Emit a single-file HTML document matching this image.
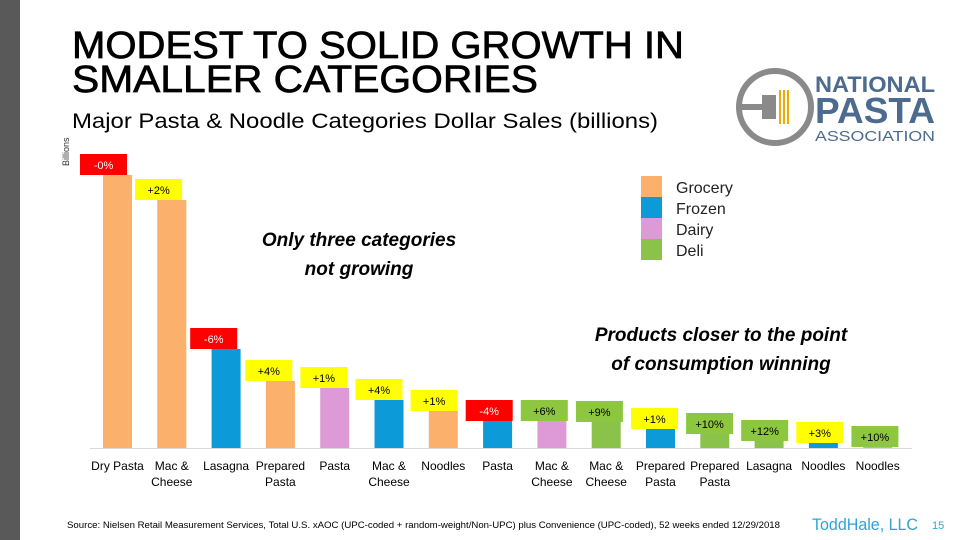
<!DOCTYPE html>
<html><head><meta charset="utf-8"><style>
html,body{margin:0;padding:0;background:#fff;}
svg{display:block;font-family:"Liberation Sans",sans-serif;}
</style></head><body>
<svg id="chart" width="960" height="540" viewBox="0 0 960 540">
<rect x="0" y="0" width="20" height="540" fill="#595959"/>
<text x="72" y="58" font-size="38" stroke="#000" stroke-width="0.7" textLength="612" lengthAdjust="spacingAndGlyphs">MODEST TO SOLID GROWTH IN</text>
<text x="72" y="92" font-size="38" stroke="#000" stroke-width="0.7" textLength="466" lengthAdjust="spacingAndGlyphs">SMALLER CATEGORIES</text>
<text x="72" y="128" font-size="21" textLength="586" lengthAdjust="spacingAndGlyphs">Major Pasta &amp; Noodle Categories Dollar Sales (billions)</text>
<text transform="translate(69,166) rotate(-90)" font-size="9" fill="#333">Billions</text>
<g>
<circle cx="775" cy="107" r="36" fill="none" stroke="#8a8a8a" stroke-width="6"/>
<rect x="762" y="95" width="14" height="24" fill="#8a8a8a"/>
<rect x="740" y="104" width="24" height="6" fill="#8a8a8a"/>
<line x1="780" y1="90" x2="780" y2="124" stroke="#f2a900" stroke-width="2"/>
<line x1="784" y1="90" x2="784" y2="124" stroke="#f2a900" stroke-width="2"/>
<line x1="788" y1="90" x2="788" y2="124" stroke="#f2a900" stroke-width="2"/>
<text x="815" y="92" font-size="22" font-weight="bold" fill="#4d6b8e" textLength="120" lengthAdjust="spacingAndGlyphs">NATIONAL</text>
<text x="815" y="123" font-size="36" font-weight="bold" fill="#4d6b8e" textLength="120" lengthAdjust="spacingAndGlyphs">PASTA</text>
<text x="815" y="141" font-size="15" fill="#4d6b8e" textLength="120" lengthAdjust="spacingAndGlyphs">ASSOCIATION</text>
</g>
<line x1="90" y1="448.5" x2="912" y2="448.5" stroke="#d9d9d9" stroke-width="1"/>
<g id="bars"></g>
<g>
<rect x="641" y="176" width="21" height="21" fill="#fbb16b"/>
<rect x="641" y="197" width="21" height="21" fill="#0c9bd8"/>
<rect x="641" y="218" width="21" height="21" fill="#de9ad6"/>
<rect x="641" y="239" width="21" height="21" fill="#8bc34a"/>
<text x="676" y="193" font-size="16" fill="#222">Grocery</text>
<text x="676" y="214" font-size="16" fill="#222">Frozen</text>
<text x="676" y="235" font-size="16" fill="#222">Dairy</text>
<text x="676" y="256" font-size="16" fill="#222">Deli</text>
</g>
<text x="359" y="246" font-size="19" font-weight="bold" font-style="italic" text-anchor="middle">Only three categories</text>
<text x="359" y="275" font-size="19" font-weight="bold" font-style="italic" text-anchor="middle">not growing</text>
<text x="721" y="341" font-size="19" font-weight="bold" font-style="italic" text-anchor="middle">Products closer to the point</text>
<text x="721" y="370" font-size="19" font-weight="bold" font-style="italic" text-anchor="middle">of consumption winning</text>
<text x="67" y="528" font-size="9" textLength="713" lengthAdjust="spacingAndGlyphs">Source: Nielsen Retail Measurement Services, Total U.S. xAOC (UPC-coded + random-weight/Non-UPC) plus Convenience (UPC-coded), 52 weeks ended 12/29/2018</text>
<text x="812" y="530" font-size="17" fill="#2fa3d8" textLength="106" lengthAdjust="spacingAndGlyphs">ToddHale, LLC</text>
<text x="932" y="529" font-size="11" fill="#2fa3d8">15</text>
</svg>
<script>
const categories = [["Dry Pasta"],["Mac &","Cheese"],["Lasagna"],["Prepared","Pasta"],["Pasta"],["Mac &","Cheese"],["Noodles"],["Pasta"],["Mac &","Cheese"],["Mac &","Cheese"],["Prepared","Pasta"],["Prepared","Pasta"],["Lasagna"],["Noodles"],["Noodles"]];
const channels = ["Grocery","Grocery","Frozen","Grocery","Dairy","Frozen","Grocery","Frozen","Dairy","Deli","Frozen","Deli","Deli","Frozen","Dairy"];
const sales = [2.73,2.48,0.99,0.67,0.60,0.48,0.37,0.27,0.27,0.26,0.19,0.14,0.07,0.05,0.01];
const growthLabels = ["-0%","+2%","-6%","+4%","+1%","+4%","+1%","-4%","+6%","+9%","+1%","+10%","+12%","+3%","+10%"];
const growthValues = [-0.1,2,-6,4,1,4,1,-4,6,9,1,10,12,3,10];

const colors = {Grocery:"#fbb16b",Frozen:"#0c9bd8",Dairy:"#de9ad6",Deli:"#8bc34a"};
const baseY = 448, pxPerUnit = 100, x0 = 103, step = 54.3, bw = 29;
const ns = "http://www.w3.org/2000/svg";
const g = document.getElementById('bars');
function xPos(i){ return x0 + i*step; }
function yPos(v){ return baseY - v*pxPerUnit; }
function mk(tag, attrs){ const e=document.createElementNS(ns,tag); for(const k in attrs) e.setAttribute(k,attrs[k]); return e; }
sales.forEach((v,i)=>{
  const x = xPos(i), y = yPos(v);
  const bar = mk('rect',{x:x,y:y,width:bw,height:baseY-y,fill:colors[channels[i]]});
  
  
  g.appendChild(bar);
  const gv = growthValues[i];
  const boxFill = gv < 0 ? "#ff0000" : (gv > 5 ? "#8dc63f" : "#ffff00");
  const bx = x - 23 + i*0.8;
  const box = mk('rect',{x:bx,y:y-21,width:47,height:21,fill:boxFill});
  
  
  g.appendChild(box);
  const t = mk('text',{x:bx+23.5,y:y-6,'font-size':11,'text-anchor':'middle',fill:gv<0?"#fff":"#000"});
  t.textContent = growthLabels[i];
  
  
  g.appendChild(t);
  categories[i].forEach((line,j)=>{
    const c = mk('text',{x:x+bw/2,y:470+j*16,'font-size':12,'text-anchor':'middle',fill:"#000"});
    c.textContent = line;
    
    
    g.appendChild(c);
  });
});
</script>
</body></html>
